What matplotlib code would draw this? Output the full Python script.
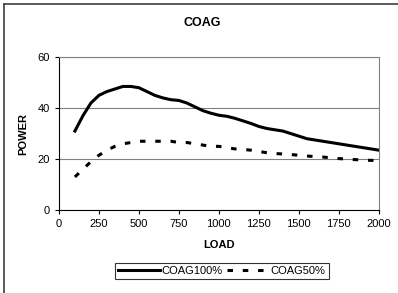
import matplotlib.pyplot as plt
from matplotlib.lines import Line2D

plt.rcParams['font.family'] = ['Liberation Sans', 'DejaVu Sans']

load = [100, 150, 200, 250, 300, 350, 400, 450, 500, 550, 600, 650, 700, 750,
        800, 850, 900, 950, 1000, 1050, 1100, 1150, 1200, 1250, 1300, 1350,
        1400, 1450, 1500, 1550, 1600, 1650, 1700, 1750, 1800, 1850, 1900,
        1950, 2000]
coag100 = [31, 37, 42, 45, 46.5, 47.5, 48.5, 48.5, 48, 46.5, 45, 44, 43.3, 43,
           42, 40.5, 39, 38, 37.2, 36.8, 36, 35, 34, 32.8, 32, 31.5, 31, 30,
           29, 28, 27.5, 27, 26.5, 26, 25.5, 25, 24.5, 24, 23.5]
coag50 = [13, 16, 19, 21.5, 23.5, 25, 26, 26.5, 27, 27, 27, 27, 27, 26.5,
          26.5, 26, 25.5, 25, 25, 24.5, 24, 23.8, 23.5, 23, 22.5, 22.2, 22,
          21.8, 21.5, 21.2, 21, 20.8, 20.5, 20.2, 20, 19.8, 19.6, 19.5, 19.5]

fig = plt.figure(figsize=(3.98, 2.93), dpi=100)
ax = fig.add_axes([0.148, 0.283, 0.804, 0.522])

ax.plot(load, coag100, color='black', lw=2.2, label='COAG100%')
ax.plot(load, coag50, color='black', lw=2.2, dashes=(1.8, 3.2), label='COAG50%')

ax.set_xlim(0, 2000)
ax.set_ylim(0, 60)
ax.set_xticks(range(0, 2001, 250))
ax.set_yticks([0, 20, 40, 60])
ax.grid(axis='y', color='#808080', lw=0.8)
ax.tick_params(labelsize=8, direction='out', length=3, width=0.8)
for s in ['top', 'right']:
    ax.spines[s].set_color('#808080')
    ax.spines[s].set_linewidth(0.8)
for s in ['left', 'bottom']:
    ax.spines[s].set_color('black')
    ax.spines[s].set_linewidth(0.8)

ax.set_xlabel('LOAD', fontsize=8, fontweight='bold', labelpad=8)
ax.set_ylabel('POWER', fontsize=8, fontweight='bold', labelpad=7)
fig.text(0.508, 0.922, 'COAG', fontsize=9, fontweight='bold', ha='center', va='center')

leg = fig.legend(loc='center', bbox_to_anchor=(0.557, 0.075), ncol=2, fontsize=8,
                 frameon=True, fancybox=False, edgecolor='black', handlelength=3.8,
                 columnspacing=0.4, handletextpad=0.1, borderpad=0.3)
leg.get_frame().set_linewidth(0.8)

# outer chart border (left and top visible)
fig.add_artist(Line2D([0.009, 0.009], [0, 0.988], color='#404040', lw=1.2, transform=fig.transFigure))
fig.add_artist(Line2D([0.009, 1], [0.988, 0.988], color='#404040', lw=1.2, transform=fig.transFigure))

fig.savefig('out.png', dpi=100)
